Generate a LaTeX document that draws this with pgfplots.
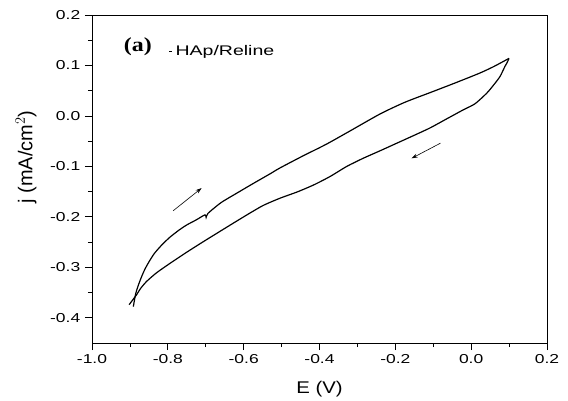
\documentclass[border=0pt]{standalone}
\usepackage{pgfplots}
\pgfplotsset{compat=1.18}
\usepackage{fontspec}
\setmainfont{Liberation Sans}
\newfontfamily\timesfont{Liberation Serif}
\usetikzlibrary{arrows.meta}
\pgfplotstableread{
E j
-0.891 -0.378
-0.888 -0.365
-0.884 -0.350
-0.878 -0.336
-0.870 -0.320
-0.860 -0.303
-0.848 -0.287
-0.835 -0.272
-0.815 -0.255
-0.794 -0.240
-0.770 -0.226
-0.750 -0.216
-0.725 -0.206
-0.702 -0.196
-0.699 -0.201
-0.694 -0.193
-0.660 -0.172
-0.618 -0.153
-0.575 -0.134
-0.531 -0.115
-0.504 -0.103
-0.443 -0.079
-0.400 -0.063
-0.372 -0.052
-0.320 -0.030
-0.240 0.004
-0.175 0.027
-0.109 0.046
-0.040 0.066
0.023 0.085
0.060 0.098
0.0997 0.114
}\forward
\pgfplotstableread{
E j
0.0997 0.114
0.095 0.106
0.089 0.098
0.076 0.078
0.060 0.062
0.041 0.045
0.010 0.024
-0.021 0.012
-0.065 -0.006
-0.109 -0.024
-0.152 -0.039
-0.196 -0.054
-0.240 -0.069
-0.285 -0.084
-0.328 -0.100
-0.372 -0.120
-0.416 -0.137
-0.460 -0.151
-0.504 -0.163
-0.550 -0.178
-0.600 -0.200
-0.650 -0.223
-0.706 -0.249
-0.750 -0.270
-0.794 -0.292
-0.830 -0.311
-0.856 -0.328
-0.872 -0.342
-0.882 -0.354
-0.893 -0.365
-0.902 -0.374
}\reverse
\begin{document}
\begin{tikzpicture}
\path[use as bounding box] (0,0) rectangle (568bp,401bp);
\begin{axis}[
  at={(92bp,58bp)}, anchor=south west,
  scale only axis, width=455bp, height=328bp,
  xmin=-1.0, xmax=0.2, ymin=-0.45, ymax=0.2,
  xtick={-1.0,-0.8,...,0.2}, ytick={-0.4,-0.3,...,0.2},
  minor x tick num=1, minor y tick num=1,
  /pgf/number format/fixed, /pgf/number format/fixed zerofill, /pgf/number format/precision=1,
  /pgf/number format/assume math mode=true,
  tick label style={font=\fontsize{13}{15}\selectfont, xscale=1.35},
  xticklabel style={yshift=-1bp},
  tick align=outside, tick pos=left,
  major tick length=7bp, minor tick length=4bp,
  axis line style={line width=0.9pt}, every tick/.style={black, line width=0.8pt},
  xlabel={E (V)}, ylabel={j (mA/cm$^{2}$)},
  xlabel style={font=\fontsize{17}{19}\selectfont, xscale=1.2, at={(axis description cs:0.5,0)}, anchor=center, yshift=-46bp},
  ylabel style={font=\fontsize{20}{22}\selectfont, at={(axis description cs:0,0.567)}, anchor=center, yshift=66bp},
  clip=false,
]
\addplot[black, line width=1.2pt, smooth, tension=0.4] table[x=E,y=j] {\forward};
\addplot[black, line width=1.2pt, smooth, tension=0.4] table[x=E,y=j] {\reverse};
\draw[-{Stealth[length=6bp,width=4bp]}, line width=0.6pt] (axis cs:-0.786,-0.188) -- (axis cs:-0.711,-0.143);
\draw[-{Stealth[length=6bp,width=4bp]}, line width=0.6pt] (axis cs:-0.081,-0.054) -- (axis cs:-0.157,-0.084);
\node[font=\timesfont\bfseries\fontsize{20}{22}\selectfont, xscale=1.2] at (axis cs:-0.879,0.137) {(a)};
\node[anchor=west, font=\fontsize{14}{16}\selectfont, xscale=1.4, inner sep=0pt] at (axis cs:-0.797,0.127) {\rule[4pt]{2pt}{0.8pt}\hspace{2.5pt}HAp/Reline};
\end{axis}
\end{tikzpicture}
\end{document}
